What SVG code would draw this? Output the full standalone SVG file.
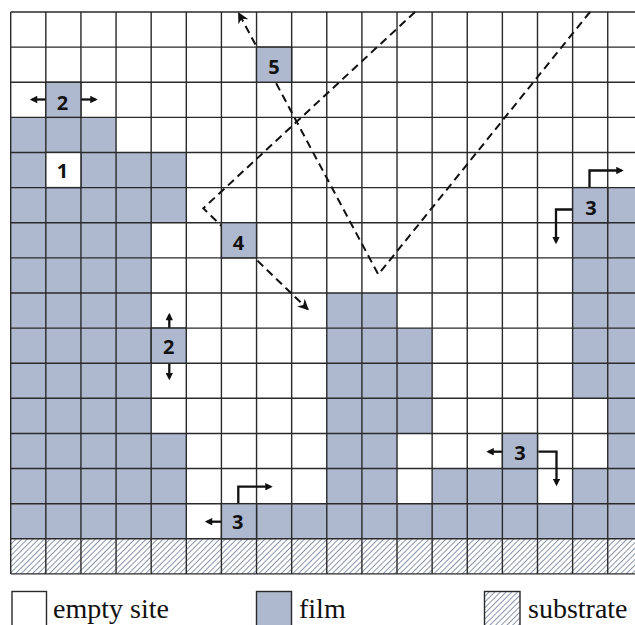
<svg xmlns="http://www.w3.org/2000/svg" width="635" height="625" viewBox="0 0 635 625">
<style>
.film{fill:#aeb9cf}
.empty{fill:#ffffff}
.cell{stroke:#2a2a2a;stroke-width:1.4}
.grid{fill:none;stroke:#2a2a2a;stroke-width:1.4}
.lbl{font-family:"Open Sans","DejaVu Sans",sans-serif;font-weight:700;font-size:20px;fill:#111;text-anchor:middle}
.leg{font-family:"Liberation Serif","Times New Roman",serif;font-size:28px;fill:#111}
.arr{fill:none;stroke:#111;stroke-width:2.3;marker-end:url(#ah)}
.dash{fill:none;stroke:#111;stroke-width:2;stroke-dasharray:8 5;marker-end:url(#dah)}
</style>
<defs>
<pattern id="hatch" patternUnits="userSpaceOnUse" width="4" height="4" patternTransform="rotate(45)">
<rect width="4" height="4" fill="#ffffff"/>
<line x1="0" y1="0" x2="0" y2="4" stroke="#76839c" stroke-width="1.7"/>
</pattern>
<marker id="ah" viewBox="0 0 10 10" refX="7" refY="5" markerWidth="8" markerHeight="7.5" markerUnits="userSpaceOnUse" orient="auto">
<path d="M0,0 L10,5 L0,10 z" fill="#111"/>
</marker>
<marker id="dah" viewBox="0 0 10 10" refX="9" refY="5" markerWidth="12" markerHeight="11" markerUnits="userSpaceOnUse" orient="auto">
<path d="M0,0 L10,5 L0,10 L3,5 z" fill="#111"/>
</marker>
</defs>
<rect x="0" y="0" width="635" height="625" fill="#ffffff"/>
<g id="lattice" transform="translate(10.7 12)">
<g id="film-cells" class="film">
<rect x="0" y="105.36" width="105.36" height="35.12"/>
<rect x="0" y="140.48" width="35.12" height="35.12"/>
<rect x="70.24" y="140.48" width="105.36" height="35.12"/>
<rect x="0" y="175.6" width="175.6" height="35.12"/>
<rect x="597.04" y="175.6" width="40" height="35.12"/>
<rect x="0" y="210.72" width="140.48" height="35.12"/>
<rect x="561.92" y="210.72" width="75" height="35.12"/>
<rect x="0" y="245.84" width="140.48" height="35.12"/>
<rect x="561.92" y="245.84" width="75" height="35.12"/>
<rect x="0" y="280.96" width="140.48" height="35.12"/>
<rect x="316.08" y="280.96" width="70.24" height="35.12"/>
<rect x="561.92" y="280.96" width="75" height="35.12"/>
<rect x="0" y="316.08" width="140.48" height="35.12"/>
<rect x="316.08" y="316.08" width="105.36" height="35.12"/>
<rect x="561.92" y="316.08" width="75" height="35.12"/>
<rect x="0" y="351.2" width="140.48" height="35.12"/>
<rect x="316.08" y="351.2" width="105.36" height="35.12"/>
<rect x="561.92" y="351.2" width="75" height="35.12"/>
<rect x="0" y="386.32" width="140.48" height="35.12"/>
<rect x="316.08" y="386.32" width="105.36" height="35.12"/>
<rect x="597.04" y="386.32" width="40" height="35.12"/>
<rect x="0" y="421.44" width="175.6" height="35.12"/>
<rect x="316.08" y="421.44" width="70.24" height="35.12"/>
<rect x="597.04" y="421.44" width="40" height="35.12"/>
<rect x="0" y="456.56" width="175.6" height="35.12"/>
<rect x="316.08" y="456.56" width="70.24" height="35.12"/>
<rect x="421.44" y="456.56" width="105.36" height="35.12"/>
<rect x="561.92" y="456.56" width="75" height="35.12"/>
<rect x="0" y="491.68" width="175.6" height="35.12"/>
<rect x="245.84" y="491.68" width="391" height="35.12"/>
</g>
<rect id="substrate-row" x="0" y="526.8" width="640" height="35.12" fill="url(#hatch)"/>
<path id="grid-lines" class="grid" d="M0,0V561.92M35.12,0V561.92M70.24,0V561.92M105.36,0V561.92M140.48,0V561.92M175.6,0V561.92M210.72,0V561.92M245.84,0V561.92M280.96,0V561.92M316.08,0V561.92M351.2,0V561.92M386.32,0V561.92M421.44,0V561.92M456.56,0V561.92M491.68,0V561.92M526.8,0V561.92M561.92,0V561.92M597.04,0V561.92M632.16,0V561.92M0,0H640M0,35.12H640M0,70.24H640M0,105.36H640M0,140.48H640M0,175.6H640M0,210.72H640M0,245.84H640M0,280.96H640M0,316.08H640M0,351.2H640M0,386.32H640M0,421.44H640M0,456.56H640M0,491.68H640M0,526.8H640M0,561.92H640"/>
</g>
<g id="connectors">
<path class="dash" d="M415,12 L203.3,208.3 L308,309.5"/>
<path class="dash" d="M590,12 L378.3,274.5 L238.6,13"/>
<path class="arr" d="M46.5,99.5 H32"/>
<path class="arr" d="M81,99.5 H95.5"/>
<path class="arr" d="M169.3,328 V315"/>
<path class="arr" d="M169.3,363.5 V378"/>
<path class="arr" d="M573,209.5 H556 V242"/>
<path class="arr" d="M589.5,188 V170.5 H621.5"/>
<path class="arr" d="M238.3,504 V486.7 H270.5"/>
<path class="arr" d="M221,521.7 H207"/>
<path class="arr" d="M502.5,451.7 H488.5"/>
<path class="arr" d="M538.3,451.7 H556.5 V484"/>
</g>
<g id="node-5"><rect class="film cell" x="256.54" y="47.12" width="35.12" height="35.12"/><text class="lbl" x="274" y="74">5</text></g>
<g id="node-2a"><rect class="film cell" x="45.82" y="82.24" width="35.12" height="35.12"/><text class="lbl" x="62.5" y="110">2</text></g>
<g id="node-1"><rect class="empty cell" x="45.82" y="152.48" width="35.12" height="35.12"/><text class="lbl" x="62.5" y="177.5">1</text></g>
<g id="node-3a"><rect class="film cell" x="572.62" y="187.6" width="35.12" height="35.12"/><text class="lbl" x="591" y="214.5">3</text></g>
<g id="node-4"><rect class="film cell" x="221.42" y="222.72" width="35.12" height="35.12"/><text class="lbl" x="238.5" y="250">4</text></g>
<g id="node-2b"><rect class="film cell" x="151.18" y="328.08" width="35.12" height="35.12"/><text class="lbl" x="168.7" y="353.5">2</text></g>
<g id="node-3b"><rect class="film cell" x="502.38" y="433.44" width="35.12" height="35.12"/><text class="lbl" x="520" y="459.5">3</text></g>
<g id="node-3c"><rect class="film cell" x="221.42" y="503.68" width="35.12" height="35.12"/><text class="lbl" x="237.8" y="528.8">3</text></g>
<g id="legend">
<rect x="12" y="591.5" width="34.5" height="35" fill="#ffffff" stroke="#2a2a2a" stroke-width="1.4"/>
<text class="leg" x="53" y="618">empty site</text>
<rect x="256.5" y="591.5" width="35" height="35" class="film" stroke="#2a2a2a" stroke-width="1.4"/>
<text class="leg" x="299" y="618">film</text>
<rect x="484.5" y="591.5" width="35.5" height="35" fill="url(#hatch)" stroke="#2a2a2a" stroke-width="1.4"/>
<text class="leg" x="528" y="618">substrate</text>
</g>
</svg>
